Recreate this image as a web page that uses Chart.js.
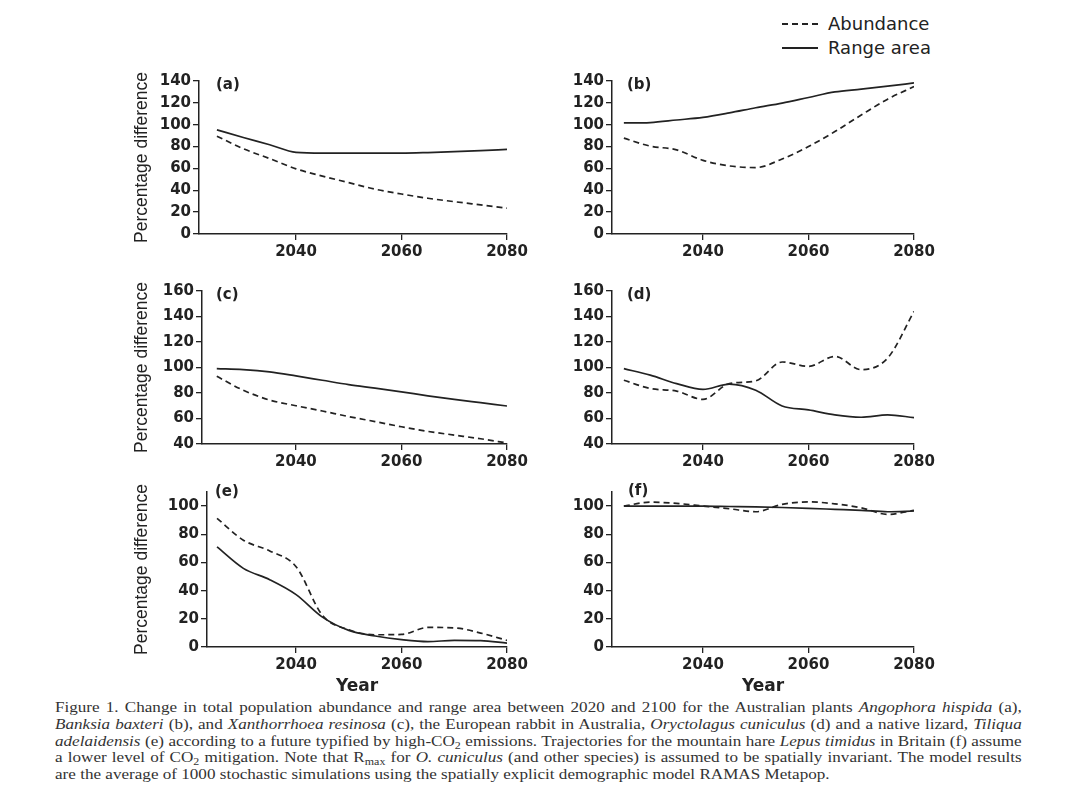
<!DOCTYPE html>
<html>
<head>
<meta charset="utf-8">
<script src="https://cdn.jsdelivr.net/npm/chart.js"></script>
<style>
  body { margin: 0; background: #fff; }
  #page { position: relative; width: 1069px; height: 800px; overflow: hidden; background: #fff; }
  .panel { position: absolute; }
  .tag { position: absolute; font: bold 15px "DejaVu Sans", sans-serif; color: #222; line-height: 16px; }
  .leg-line { position: absolute; left: 782px; width: 36px; height: 0; }
  .leg-text { position: absolute; left: 828px; font: 18px "DejaVu Sans", sans-serif; color: #222; line-height: 20px; }
  /* caption is set narrow then stretched sideways, like the scanned figure */
  #caption { position: absolute; left: 55px; top: 699px; width: 848px; font: 15px "Liberation Serif", serif;
             color: #333; line-height: 16.8px; transform: scaleX(1.14); transform-origin: 0 0; }
  #caption div { text-align: justify; text-align-last: justify; white-space: nowrap; }
  #caption div.last { text-align-last: left; }
  sub { font-size: 0.7em; line-height: 0; vertical-align: -0.3em; }
</style>
</head>
<body>
<div id="page">
  <div class="leg-line" style="top:23px; border-top:2px dashed #222;"></div>
  <div class="leg-text" style="top:14px;">Abundance</div>
  <div class="leg-line" style="top:47px; border-top:2px solid #222;"></div>
  <div class="leg-text" style="top:38px;">Range area</div>

  <div class="panel" id="pa"><canvas id="ca"></canvas></div>
  <div class="panel" id="pb"><canvas id="cb"></canvas></div>
  <div class="panel" id="pc"><canvas id="cc"></canvas></div>
  <div class="panel" id="pd"><canvas id="cd"></canvas></div>
  <div class="panel" id="pe"><canvas id="ce"></canvas></div>
  <div class="panel" id="pf"><canvas id="cf"></canvas></div>

  <div class="tag" style="left:216px; top:76px;">(a)</div>
  <div class="tag" style="left:627px; top:76px;">(b)</div>
  <div class="tag" style="left:216px; top:286px;">(c)</div>
  <div class="tag" style="left:627px; top:286px;">(d)</div>
  <div class="tag" style="left:215px; top:483px;">(e)</div>
  <div class="tag" style="left:628px; top:482px;">(f)</div>

  <div id="caption">
    <div>Figure 1. Change in total population abundance and range area between 2020 and 2100 for the Australian plants <i>Angophora hispida</i> (a),</div>
    <div><i>Banksia baxteri</i> (b), and <i>Xanthorrhoea resinosa</i> (c), the European rabbit in Australia, <i>Oryctolagus cuniculus</i> (d) and a native lizard, <i>Tiliqua</i></div>
    <div><i>adelaidensis</i> (e) according to a future typified by high-CO<sub>2</sub> emissions. Trajectories for the mountain hare <i>Lepus timidus</i> in Britain (f) assume</div>
    <div>a lower level of CO<sub>2</sub> mitigation. Note that R<sub>max</sub> for <i>O. cuniculus</i> (and other species) is assumed to be spatially invariant. The model results</div>
    <div class="last">are the average of 1000 stochastic simulations using the spatially explicit demographic model RAMAS Metapop.</div>
  </div>
</div>

<script>
// years shared by every panel
const years = [2025, 2030, 2035, 2040, 2045, 2050, 2055, 2060, 2065, 2070, 2075, 2080];
const xTicks = [2040, 2060, 2080];

// (a) Angophora hispida
const abundanceA = [89.5, 78, 69, 59.6, 53, 47, 41, 36.6, 32.7, 29.6, 26.6, 23.6];
const rangeA = [95.3, 88.3, 81.7, 74.7, 74, 74, 74, 74, 74.5, 75.3, 76.3, 77.4];
// (b) Banksia baxteri
const abundanceB = [87.7, 80.4, 77, 67.4, 62.3, 60.8, 68.6, 80, 93.7, 108.9, 123.4, 134.9];
const rangeB = [101.6, 102, 104.3, 106.7, 110.8, 115.5, 119.8, 124.9, 130, 132.5, 135.3, 138.2];
// (c) Xanthorrhoea resinosa
const abundanceC = [93.1, 82.2, 74.5, 70, 65.9, 61.5, 57.6, 53.5, 49.9, 47, 44.1, 40.8];
const rangeC = [99.1, 98.3, 96.5, 93.4, 90, 86.6, 83.8, 80.9, 77.8, 75, 72.4, 69.8];
// (d) Oryctolagus cuniculus
const abundanceD = [90, 83.5, 81.5, 75, 87.4, 89.5, 104.3, 100.9, 108.7, 98.3, 107.4, 143.9];
const rangeD = [99.1, 94, 87.4, 82.8, 87, 82.2, 69.8, 66.7, 62.8, 61, 62.8, 60.7];
// (e) Tiliqua adelaidensis
const abundanceE = [91.3, 75.8, 68.2, 57, 22.4, 12.2, 8.7, 8.9, 13.9, 13.6, 9.9, 4.7];
const rangeE = [71, 55.8, 47.8, 37.2, 21.2, 11.8, 7.8, 5.2, 3.8, 4.7, 4.5, 2.8];
// (f) Lepus timidus
const abundanceF = [100, 102.8, 101.9, 100, 98.1, 96, 101.2, 103, 101.6, 98.8, 94.1, 97];
const rangeF = [100, 100, 100, 100, 99.7, 99.4, 99, 98.4, 97.7, 97, 96, 96.5];

// y tick labels for each row of panels
const yTicksTop = [0, 20, 40, 60, 80, 100, 120, 140];
const yTicksMid = [40, 60, 80, 100, 120, 140, 160];
const yTicksBot = [0, 20, 40, 60, 80, 100];

const ink = '#222';
const tickFont = { family: 'DejaVu Sans', weight: 'bold', size: 15 };

function toPoints(vals) {
  return years.map((x, i) => ({ x: x, y: vals[i] }));
}

// L/R/T/B = chart area in page pixels, left = container left
function makePanel(id, canvasId, g, abundance, range, yTicks) {
  const div = document.getElementById(id);
  const xH = g.year ? 50 : 32;
  const top = g.T - 10;
  div.style.left = g.left + 'px';
  div.style.top = top + 'px';
  div.style.width = (g.R + 24 - g.left) + 'px';
  div.style.height = (g.B - top + xH) + 'px';

  new Chart(document.getElementById(canvasId), {
    type: 'line',
    data: {
      datasets: [
        { label: 'Abundance', data: toPoints(abundance), borderColor: ink, borderWidth: 1.7,
          borderDash: [6, 4], pointRadius: 0, cubicInterpolationMode: 'monotone', fill: false },
        { label: 'Range area', data: toPoints(range), borderColor: ink, borderWidth: 1.7,
          pointRadius: 0, cubicInterpolationMode: 'monotone', fill: false }
      ]
    },
    options: {
      responsive: true,
      maintainAspectRatio: false,
      animation: false,
      layout: { padding: { top: 10, right: 24, left: 0, bottom: 0 } },
      plugins: { legend: { display: false }, tooltip: { enabled: false } },
      scales: {
        x: {
          type: 'linear', min: g.xMin, max: 2080,
          afterBuildTicks: s => { s.ticks = xTicks.map(v => ({ value: v })); },
          afterFit: s => { s.height = xH; },
          ticks: { font: tickFont, color: ink, padding: 3, maxRotation: 0, callback: v => String(v) },
          grid: { drawOnChartArea: false, tickLength: 6, color: ink, lineWidth: 1.3 },
          border: { display: true, color: ink, width: 1.5 },
          title: { display: g.year, text: 'Year', color: ink, padding: 0,
                   font: { family: 'DejaVu Sans', weight: 'bold', size: 17 } }
        },
        y: {
          min: g.yMin, max: g.yMax,
          afterBuildTicks: s => { s.ticks = yTicks.map(v => ({ value: v })); },
          afterFit: s => { s.width = g.L - g.left; },
          ticks: { font: tickFont, color: ink, padding: 2, callback: v => String(v) },
          grid: { drawOnChartArea: false, tickLength: 6, color: ink, lineWidth: 1.3 },
          border: { display: true, color: ink, width: 1.5 },
          title: { display: g.ytitle, text: 'Percentage difference', color: ink, padding: 0,
                   font: { family: 'Liberation Sans', size: 17.5 } }
        }
      }
    }
  });
}

makePanel('pa', 'ca', { left: 132, L: 199, R: 507, T: 80, B: 234, xMin: 2021.6, yMin: 0, yMax: 140, ytitle: true, year: false }, abundanceA, rangeA, yTicksTop);
makePanel('pb', 'cb', { left: 560, L: 612, R: 914, T: 80, B: 234, xMin: 2022.75, yMin: 0, yMax: 140, ytitle: false, year: false }, abundanceB, rangeB, yTicksTop);
makePanel('pc', 'cc', { left: 132, L: 202, R: 507, T: 290, B: 444, xMin: 2022.2, yMin: 40, yMax: 160, ytitle: true, year: false }, abundanceC, rangeC, yTicksMid);
makePanel('pd', 'cd', { left: 560, L: 612, R: 914, T: 290, B: 444, xMin: 2022.75, yMin: 40, yMax: 160, ytitle: false, year: false }, abundanceD, rangeD, yTicksMid);
makePanel('pe', 'ce', { left: 132, L: 207, R: 507, T: 491, B: 647, xMin: 2023.1, yMin: 0, yMax: 110, ytitle: true, year: true }, abundanceE, rangeE, yTicksBot);
makePanel('pf', 'cf', { left: 560, L: 612, R: 914, T: 491, B: 647, xMin: 2022.75, yMin: 0, yMax: 110, ytitle: false, year: true }, abundanceF, rangeF, yTicksBot);
</script>
</body>
</html>
